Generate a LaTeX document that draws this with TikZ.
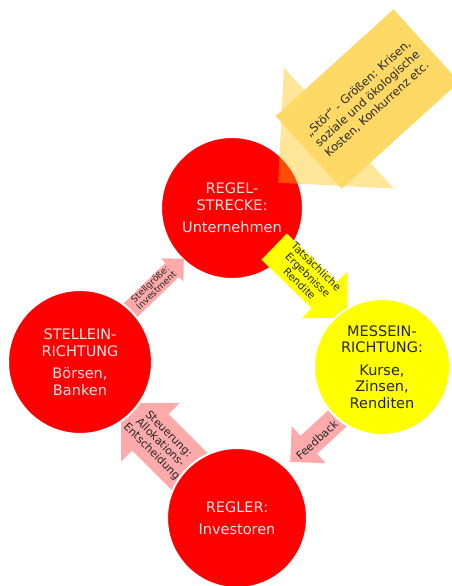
\documentclass[tikz,border=0pt]{standalone}
\usepackage{fontspec}
\setmainfont{DejaVu Sans}
\usetikzlibrary{shapes.arrows}

\definecolor{regelrot}{RGB}{255,0,0}
\definecolor{messgelb}{RGB}{255,255,0}
\definecolor{pfeilrosa}{RGB}{255,170,170}
\definecolor{stoergold}{RGB}{255,192,0}
\definecolor{stoerbox}{RGB}{255,217,102}
\definecolor{hellrosa}{RGB}{255,225,225}

\begin{document}
\begin{tikzpicture}[x=1pt, y=-1pt,
    kreis/.style={circle, draw=white, line width=2pt, inner sep=0pt, align=center,
                  font=\fontsize{14.5}{16.5}\selectfont},
    rotkreis/.style={kreis, fill=regelrot, text=hellrosa},
    gelbkreis/.style={kreis, fill=messgelb, text=black!85},
    pfeil/.style={single arrow, single arrow tip angle=90, inner sep=0pt, anchor=tip,
                  text depth=0pt},
    pfeiltext/.style={align=center, inner sep=0pt, text=black!85}
]
    \useasboundingbox (0,0) rectangle (452,586);
    \clip (0,0) rectangle (452,586);

    % Regelstrecke oben (liegt unter dem gelben Pfeil)
    \node[rotkreis, minimum size=142pt] (strecke) at (232,208) {REGEL-\\STRECKE:\\[6pt]Unternehmen};

    % ── Blockpfeile zwischen den Kreisen (Spitze gesetzt, Schaftbreite = text height) ──
    \node[pfeil, fill=pfeilrosa, minimum height=82pt, minimum width=32pt, text height=19pt,
          single arrow head extend=6.5pt, rotate=44] (stell) at (184,258.5) {};
    \node[pfeil, fill=messgelb, minimum height=102pt, minimum width=64pt, text height=36pt,
          single arrow head extend=14pt, rotate=-44] (ergebnis) at (347.7,317.7) {};
    \node[pfeil, fill=pfeilrosa, minimum height=75pt, minimum width=50pt, text height=24pt,
          single arrow head extend=13pt, shape border rotate=180, rotate=42.6] (feedback) at (290,462) {};
    \node[pfeil, fill=pfeilrosa, minimum height=119pt, minimum width=82pt, text height=51pt,
          single arrow head extend=15.5pt, shape border rotate=180, rotate=-45] (steuerung) at (121,403) {};

    % ── übrige Kreise ──
    \node[rotkreis, minimum size=144pt] (stellein) at (80,362) {STELLEIN-\\RICHTUNG\\[6pt]Börsen,\\Banken};
    \node[gelbkreis, minimum size=136pt] (mess) at (382,367) {MESSEIN-\\RICHTUNG:\\[6pt]Kurse,\\Zinsen,\\Renditen};
    \node[rotkreis, minimum size=140pt] (regler) at (237,518) {REGLER:\\[6pt]Investoren};

    % Pfeilbeschriftungen
    \node[pfeiltext, rotate=44, font=\fontsize{9}{9}\selectfont] (stelltext) at (153,287) {Stellgröße:\\Investment};
    \node[pfeiltext, rotate=-44, font=\fontsize{10.5}{12}\selectfont] (ergebnistext) at (308,275)
          {Tatsächliche\\Ergebnisse\\Rendite};
    \node[pfeiltext, rotate=42.6, font=\fontsize{11}{12}\selectfont] (feedbacktext) at (317,440) {Feedback};
    \node[pfeiltext, rotate=-45, font=\fontsize{11}{12}\selectfont] (steuerungtext) at (160,443)
          {Steuerung:\\Allokations-\\Entscheidung};

    % Störgrößen-Pfeil von rechts oben
    \node[pfeil, fill=stoergold, fill opacity=0.4, minimum height=200pt, minimum width=163pt,
          text height=90pt, single arrow head extend=36.5pt, shape border rotate=180,
          rotate=42.2] (stoerpfeil) at (278,183) {};
    \node[rectangle, fill=stoerbox, minimum width=159pt, minimum height=98pt, rotate=42.2,
          align=center, text=black!85, font=\fontsize{11.5}{14}\selectfont] (stoer) at (367.5,99)
          {„Stör“ - Größen: Krisen,\\soziale und ökologische\\Kosten, Konkurrenz etc.};
\end{tikzpicture}
\end{document}
